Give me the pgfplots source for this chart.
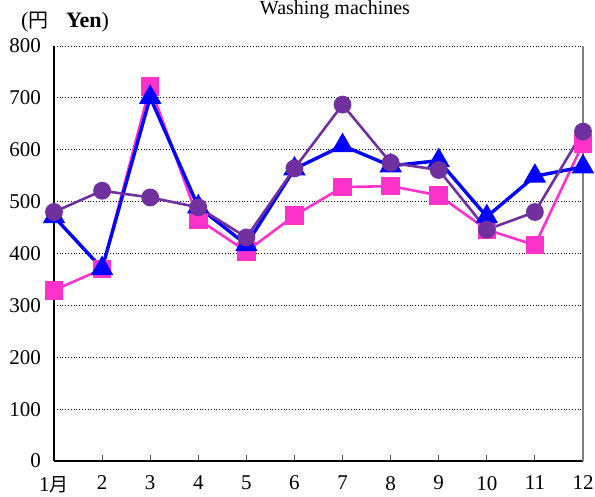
\documentclass[border=0pt]{standalone}
\usepackage{fontspec}
\setmainfont{Liberation Serif}
\newfontfamily\cjk{Noto Sans CJK JP}
\usepackage{pgfplots}
\pgfplotsset{compat=1.18}
\definecolor{cblue}{RGB}{0,0,255}
\definecolor{cpink}{RGB}{255,51,204}
\definecolor{cpurple}{RGB}{112,48,160}
\begin{document}
\begin{tikzpicture}
\begin{axis}[
  scale only axis, width=264.5pt, height=207.5pt,
  xmin=1, xmax=12, ymin=0, ymax=800,
  xtick={1,...,12},
  xticklabels={1{\cjk\fontsize{9.5}{9.5}\selectfont 月},2,3,4,5,6,7,8,9,10,11,12},
  ytick={0,100,...,800},
  axis x line*=bottom, axis y line*=left,
  x axis line style={black, line width=0.9pt, -},
  y axis line style={black, line width=1pt, -},
  ymajorgrids, grid style={black, densely dotted, line width=0.5pt},
  xtick style={black!70, line width=0.5pt}, major tick length=3pt, tick align=inside,
  ytick style={draw=none},
  tick label style={font=\fontsize{10.5}{12}\selectfont},
  /pgf/number format/assume math mode=true,
  xticklabel style={yshift=-4pt},
  yticklabel style={xshift=-3pt},
  clip=false,
]
\addplot[cpink, line width=1.3pt, mark=square*, mark size=4pt, mark options={solid}] coordinates {
(1,329) (2,370) (3,722) (4,466) (5,404) (6,473) (7,528) (8,530) (9,512) (10,446) (11,416) (12,612)};
\addplot[cblue, line width=1.7pt, mark=triangle*, mark size=4.8pt, mark options={solid}] coordinates {
(1,471) (2,371) (3,701) (4,490) (5,417) (6,563) (7,608) (8,569) (9,579) (10,471) (11,549) (12,567)};
\addplot[cpurple, line width=1.3pt, mark=*, mark size=3.8pt, mark options={solid}] coordinates {
(1,480) (2,521) (3,508) (4,489) (5,431) (6,564) (7,687) (8,575) (9,561) (10,446) (11,480) (12,635)};
\draw[gray, line width=1pt] (rel axis cs:1,0) -- (rel axis cs:1,1);
\end{axis}
\node[anchor=base, font=\fontsize{10}{12}\selectfont] at (140.5pt,223pt) {Washing machines};
\node[anchor=base, font=\fontsize{11}{12}\selectfont] at (5.5pt,216.5pt) {({\cjk\fontsize{10}{10}\selectfont 円}\hspace{0.8em}\textbf{Yen})};
\pgfresetboundingbox
\path[use as bounding box] (-27pt,-18pt) rectangle (270.5pt,230.5pt);
\end{tikzpicture}
\end{document}
